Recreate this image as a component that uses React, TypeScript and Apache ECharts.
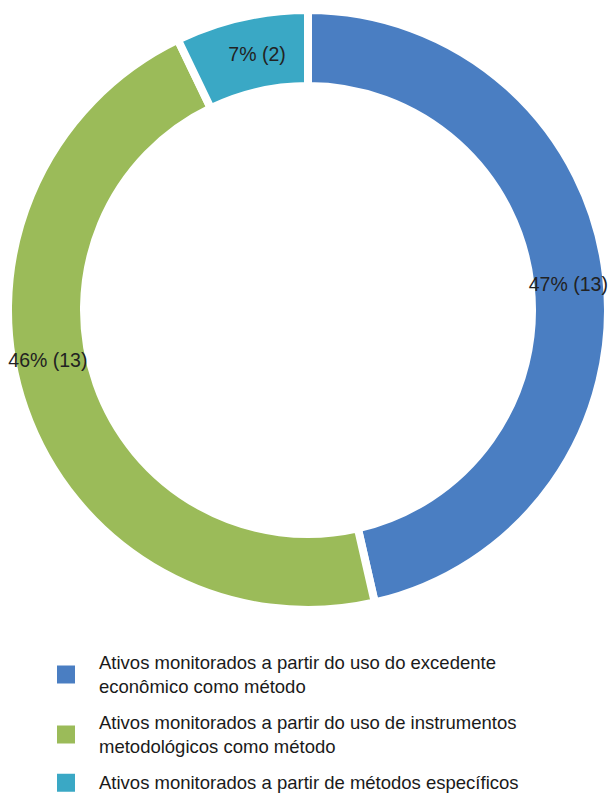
import React, { useEffect, useRef } from "react";
import * as echarts from "echarts";

const categories = [
  "Ativos monitorados a partir do uso do excedente econômico como método",
  "Ativos monitorados a partir do uso de instrumentos metodológicos como método",
  "Ativos monitorados a partir de métodos específicos",
];
const legendLines = [
  "Ativos monitorados a partir do uso do excedente\neconômico como método",
  "Ativos monitorados a partir do uso de instrumentos\nmetodológicos como método",
  "Ativos monitorados a partir de métodos específicos",
];
const counts = [13, 13, 2];
const percents = [47, 46, 7];
const colors = ["#4A7EC2", "#9BBB59", "#3AA8C5"];

export default function App() {
  const ref = useRef<HTMLDivElement>(null);
  useEffect(() => {
    document.body.style.margin = "0";
    const chart = echarts.init(ref.current!, null, { renderer: "svg" });
    const font = "'Liberation Sans', Arial, sans-serif";
    chart.setOption({
      animation: false,
      color: colors,
      legend: {
        orient: "vertical",
        left: 55,
        top: 651,
        padding: 0,
        itemGap: 13,
        itemWidth: 20,
        itemHeight: 20,
        icon: "rect",
        selectedMode: false,
        formatter: (name: string) => legendLines[categories.indexOf(name)],
        textStyle: {
          fontFamily: font,
          fontSize: 18.5,
          lineHeight: 23.5,
          color: "#1a1a1a",
          padding: [0, 0, 0, 18],
        },
        data: categories,
      },
      series: [
        {
          type: "pie",
          center: [308, 310],
          radius: [224, 300],
          startAngle: 90,
          clockwise: true,
          avoidLabelOverlap: false,
          itemStyle: { borderColor: "#ffffff", borderWidth: 8 },
          label: {
            show: true,
            position: "inside",
            fontFamily: font,
            fontSize: 19.5,
            color: "#222222",
            formatter: (p: any) => `${percents[p.dataIndex]}% (${counts[p.dataIndex]})`,
          },
          labelLine: { show: false },
          labelLayout: (p: any) => {
            if (p.dataIndex === 1) return { dx: -10, dy: -38 };
            if (p.dataIndex === 2) return { dx: 8, dy: 2 };
            if (p.dataIndex === 0) return { dx: -3, dy: 4 };
            return {};
          },
          emphasis: { disabled: true },
          data: categories.map((name, i) => ({ name, value: counts[i] })),
        },
      ],
    });
    return () => chart.dispose();
  }, []);
  return <div ref={ref} style={{ width: 613, height: 796 }} />;
}
